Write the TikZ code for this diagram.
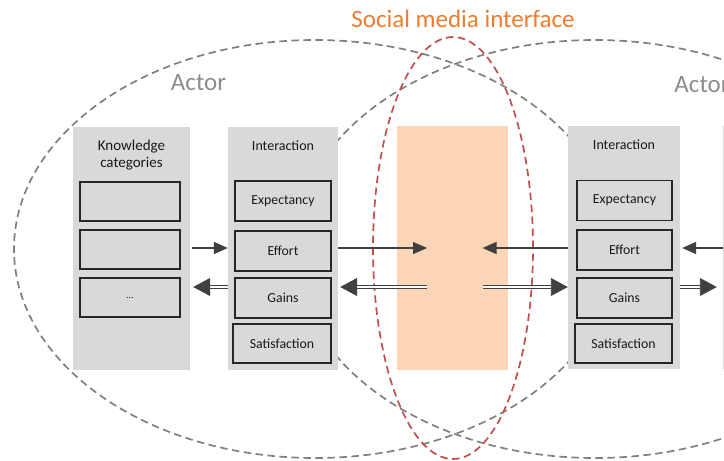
\documentclass[tikz,border=0pt]{standalone}
\usepackage{fontspec}
\setmainfont{Carlito}
\usetikzlibrary{arrows.meta}
\definecolor{boxgray}{HTML}{D9D9D9}
\definecolor{edgedark}{HTML}{262626}
\definecolor{arrowgray}{HTML}{404040}
\definecolor{ringgray}{HTML}{808080}
\definecolor{ringred}{HTML}{C0504D}
\definecolor{peach}{HTML}{FBD5B5}
\definecolor{titleorange}{HTML}{ED7D31}
\definecolor{actorgray}{HTML}{8C8C8C}
\begin{document}
\begin{tikzpicture}[x=1pt,y=-1pt,
  ring/.style={draw=ringgray, line width=1.7pt, dash pattern=on 7.5pt off 4.5pt},
  redring/.style={draw=ringred, line width=1.7pt, dash pattern=on 7.5pt off 4.5pt},
  panel/.style={fill=boxgray, draw=none, inner sep=0pt, minimum height=243pt},
  cell/.style={fill=boxgray, draw=edgedark, line width=1.4pt, inner sep=0pt,
    minimum height=39pt, font=\fontsize{13.8}{16}\selectfont, text=black!90},
  heading/.style={font=\fontsize{14}{16}\selectfont, text=black!90, align=center},
  bigtext/.style={font=\fontsize{25}{30}\selectfont},
  sarrow/.style={draw=arrowgray, line width=1.4pt, -{Triangle[length=14pt,width=12pt]}},
  darrow/.style={draw=arrowgray, line width=0.9pt, double=white, double distance=1.4pt,
    -{Triangle[length=17pt,width=18pt]}}
]
\useasboundingbox (0,0) rectangle (724,461);
\clip (0,0) rectangle (724,461);

% two actor rings and the interface ring
\draw[ring] (315,249) ellipse [x radius=301pt, y radius=209pt];
\draw[ring] (595,249) ellipse [x radius=301pt, y radius=209pt];
\draw[redring] (453,248) ellipse [x radius=80pt, y radius=211pt];

% social media interface block
\node[panel, fill=peach, minimum width=111pt, minimum height=244pt] (sm) at (452.5,248) {};

% left actor
\node[panel, minimum width=117pt] (kL) at (131.5,248) {};
\node[panel, minimum width=110pt] (iL) at (283,248.5) {};
\node[heading, font=\fontsize{15}{17}\selectfont] (kLt) at (131.5,155) {Knowledge\\categories};
\node[heading] (iLt) at (283,146) {Interaction};
\node[cell, minimum width=100pt] (k1) at (130,201.5) {};
\node[cell, minimum width=100pt] (k2) at (130,249.5) {};
\node[cell, minimum width=100pt, font=\fontsize{10}{12}\selectfont] (k3) at (130,297.5) {...};
\node[cell, minimum width=96pt, minimum height=40pt] (expL) at (283,201) {Expectancy};
\node[cell, minimum width=96pt, minimum height=40pt] (effL) at (283,251) {Effort};
\node[cell, minimum width=96pt, minimum height=40pt] (gainL) at (283,298) {Gains};
\node[cell, minimum width=98pt] (satL) at (282,343.5) {Satisfaction};

% right actor
\node[panel, minimum width=112pt] (iR) at (624,247.5) {};
\node[panel, minimum width=117pt] (kR) at (781.5,247.5) {};
\node[heading] (iRt) at (624,145) {Interaction};
\node[cell, minimum width=95pt, minimum height=40pt] (expR) at (624.5,200.5) {Expectancy};
\node[cell, minimum width=95pt, minimum height=40pt] (effR) at (624.5,250) {Effort};
\node[cell, minimum width=95pt, minimum height=40pt] (gainR) at (624.5,298) {Gains};
\node[cell, minimum width=97pt] (satR) at (623.5,343.5) {Satisfaction};

% labels
\node[bigtext, text=titleorange] (title) at (463,19) {Social media interface};
\node[bigtext, text=actorgray] (actL) at (198.5,83) {Actor};
\node[bigtext, text=actorgray] (actR) at (702,85) {Actor};

% arrow rows
\coordinate (rowA) at (0,248);
\coordinate (rowB) at (0,287);
\coordinate (smL) at (427,248);
\coordinate (smR) at (482.5,248);

\draw[sarrow, shorten <=2pt] (kL.east |- rowA) -- (iL.west |- rowA);
\draw[darrow, shorten >=3pt] (iL.west |- rowB) -- (kL.east |- rowB);
\draw[sarrow] (iL.east |- rowA) -- (smL);
\draw[darrow, shorten >=2pt] (smL |- rowB) -- (iL.east |- rowB);
\draw[sarrow] (iR.west |- rowA) -- (smR);
\draw[darrow] (smR |- rowB) -- (iR.west |- rowB);
\draw[sarrow, shorten >=2pt] (kR.west |- rowA) -- (iR.east |- rowA);
\draw[darrow, shorten >=6pt] (iR.east |- rowB) -- (kR.west |- rowB);
\end{tikzpicture}
\end{document}
